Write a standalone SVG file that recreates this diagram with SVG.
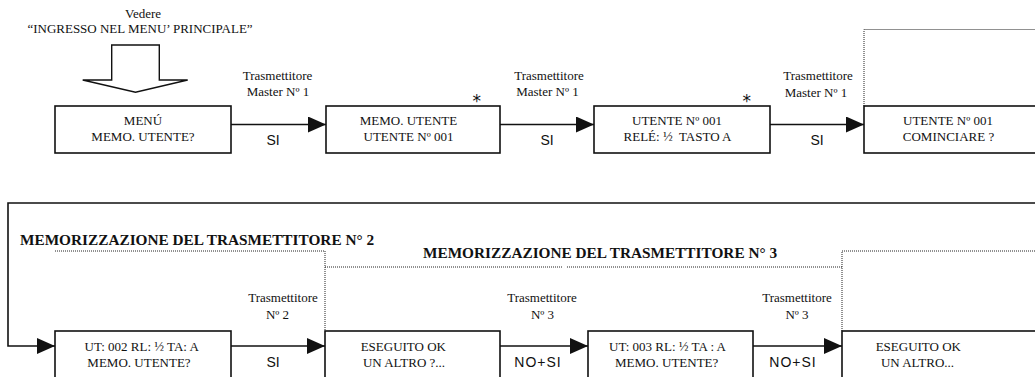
<svg xmlns="http://www.w3.org/2000/svg" width="1035" height="377" viewBox="0 0 1035 377">
<style>
.box{fill:#fff;stroke:#111;stroke-width:1.6}
.con{fill:none;stroke:#111;stroke-width:1.6}
.dot{fill:none;stroke:#222;stroke-width:1;stroke-dasharray:1 1}
.t{font-family:"Liberation Serif","Times New Roman",serif;font-size:13px;fill:#111;text-anchor:middle}
.h{font-family:"Liberation Serif","Times New Roman",serif;font-size:15.3px;font-weight:bold;fill:#111}
.s{font-family:"Liberation Sans",Arial,sans-serif;font-size:14px;fill:#111;text-anchor:middle}
.ast{font-family:"DejaVu Sans",sans-serif;font-size:17px;fill:#111;text-anchor:middle}
</style>
<defs>
<marker id="ah" viewBox="0 0 18 16" refX="18" refY="8" markerWidth="18" markerHeight="16" markerUnits="userSpaceOnUse" orient="auto">
<path d="M0,0 L18,8 L0,16 z" fill="#111"/>
</marker>
</defs>
<rect width="1035" height="377" fill="#fff"/>

<g id="intro">
<text class="t" x="143" y="18">Vedere</text>
<text class="t" x="140" y="33">“INGRESSO NEL MENU’ PRINCIPALE”</text>
<polygon points="111.7,45 159.3,45 159.3,80 187.7,80 135.5,92.3 82.7,80 111.7,80" fill="#fff" stroke="#111" stroke-width="1.4"/>
</g>

<g id="headings">
<text class="h" x="20" y="245">MEMORIZZAZIONE DEL TRASMETTITORE N° 2</text>
<text class="h" x="423" y="258">MEMORIZZAZIONE DEL TRASMETTITORE N° 3</text>
</g>

<g id="dotted">
<path class="dot" d="M864,106 V29.5 H1035"/>
<path class="dot" d="M55,251 H325 V331"/>
<path class="dot" d="M325,267 H563 M567,267 H842"/>
<path class="dot" d="M842,331 V251 H1035"/>
</g>

<g id="connectors">
<line class="con" x1="231" y1="124.5" x2="326" y2="124.5" marker-end="url(#ah)"/>
<line class="con" x1="500" y1="124.5" x2="594" y2="124.5" marker-end="url(#ah)"/>
<line class="con" x1="770" y1="124.5" x2="864" y2="124.5" marker-end="url(#ah)"/>
<path class="con" d="M1036,203 H8 V346 H55" marker-end="url(#ah)"/>
<line class="con" x1="231" y1="346" x2="325" y2="346" marker-end="url(#ah)"/>
<line class="con" x1="500" y1="346" x2="588" y2="346" marker-end="url(#ah)"/>
<line class="con" x1="753" y1="346" x2="842" y2="346" marker-end="url(#ah)"/>
<text class="t" x="277.5" y="80">Trasmettitore</text>
<text class="t" x="278" y="96">Master Nº 1</text>
<text class="s" x="273" y="145">SI</text>
<text class="t" x="549" y="80">Trasmettitore</text>
<text class="t" x="547.5" y="96">Master Nº 1</text>
<text class="s" x="547" y="145">SI</text>
<text class="t" x="818" y="80">Trasmettitore</text>
<text class="t" x="816" y="97">Master Nº 1</text>
<text class="s" x="817" y="145">SI</text>
<text class="t" x="283" y="302">Trasmettitore</text>
<text class="t" x="277.5" y="319">Nº 2</text>
<text class="s" x="273" y="367">SI</text>
<text class="t" x="542" y="302">Trasmettitore</text>
<text class="t" x="542.5" y="319">Nº 3</text>
<text class="s" x="538" y="367" letter-spacing="1">NO+SI</text>
<text class="t" x="797" y="302">Trasmettitore</text>
<text class="t" x="797" y="319">Nº 3</text>
<text class="s" x="793" y="367" letter-spacing="1">NO+SI</text>
</g>

<g id="n1">
<rect class="box" x="55" y="106" width="176" height="47"/>
<text class="t" x="143" y="125">MENÚ</text>
<text class="t" x="143" y="141">MEMO. UTENTE?</text>
</g>
<g id="n2">
<rect class="box" x="326" y="106" width="174" height="47"/>
<text class="t" x="408.5" y="125">MEMO. UTENTE</text>
<text class="t" x="408.5" y="141">UTENTE Nº 001</text>
<text class="ast" x="476.7" y="106.5">*</text>
</g>
<g id="n3">
<rect class="box" x="594" y="106" width="176" height="47"/>
<text class="t" x="677" y="125">UTENTE Nº 001</text>
<text class="t" x="677.5" y="141" xml:space="preserve">RELÉ: ½  TASTO A</text>
<text class="ast" x="746.7" y="106.5">*</text>
</g>
<g id="n4">
<rect class="box" x="864" y="106" width="200" height="47"/>
<text class="t" x="948" y="125">UTENTE Nº 001</text>
<text class="t" x="948.5" y="141">COMINCIARE ?</text>
</g>
<g id="n5">
<rect class="box" x="55" y="331" width="176" height="60"/>
<text class="t" x="141.7" y="351">UT: 002 RL: ½ TA: A</text>
<text class="t" x="139" y="367">MEMO. UTENTE?</text>
</g>
<g id="n6">
<rect class="box" x="325" y="331" width="175" height="60"/>
<text class="t" x="403.3" y="351">ESEGUITO OK</text>
<text class="t" x="404" y="367">UN ALTRO ?...</text>
</g>
<g id="n7">
<rect class="box" x="588" y="331" width="165" height="60"/>
<text class="t" x="667.5" y="351">UT: 003 RL: ½ TA : A</text>
<text class="t" x="666.7" y="367">MEMO. UTENTE?</text>
</g>
<g id="n8">
<rect class="box" x="842" y="331" width="200" height="60"/>
<text class="t" x="918.3" y="351">ESEGUITO OK</text>
<text class="t" x="917.5" y="367">UN ALTRO...</text>
</g>
</svg>
